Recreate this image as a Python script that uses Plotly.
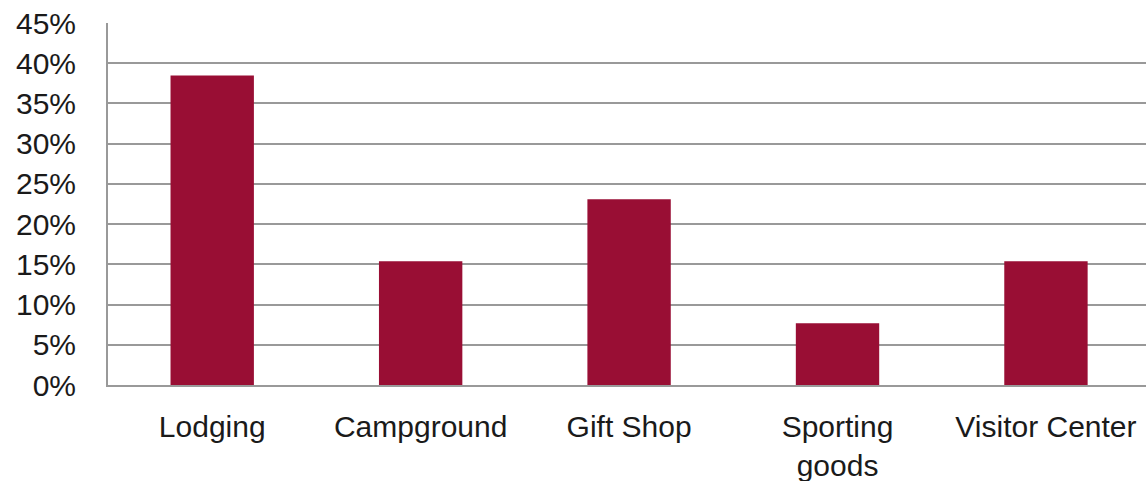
import plotly.graph_objects as go

categories = ["Lodging", "Campground", "Gift Shop", "Sporting<br>goods", "Visitor Center"]
shares = [38.46, 15.38, 23.08, 7.69, 15.38]
tick_values = [0, 5, 10, 15, 20, 25, 30, 35, 40, 45]
tick_labels = [f"{v}%" for v in tick_values]

font_family = "Liberation Sans, Arial, Helvetica, sans-serif"

fig = go.Figure(
    go.Bar(
        x=categories,
        y=shares,
        marker=dict(color="#990E34", line=dict(width=0)),
        width=0.4,
    )
)

fig.update_layout(
    width=1146,
    height=481,
    margin=dict(l=108, r=0, t=23, b=96),
    paper_bgcolor="white",
    plot_bgcolor="white",
    showlegend=False,
    font=dict(family=font_family, size=30, color="#1a1a1a"),
)

fig.update_xaxes(
    range=[-0.5, 4.48],
    showgrid=False,
    showline=True,
    linecolor="#999999",
    linewidth=2,
    ticks="",
    tickfont=dict(size=30),
    ticklabelstandoff=14,
)

fig.update_yaxes(
    range=[0, 45],
    tickvals=tick_values,
    ticktext=tick_labels,
    showgrid=True,
    gridcolor="#999999",
    gridwidth=2,
    showline=True,
    linecolor="#999999",
    linewidth=2,
    zeroline=False,
    ticks="",
    ticklabelstandoff=24,
    tickfont=dict(size=30),
)

fig.write_html("out.html")
